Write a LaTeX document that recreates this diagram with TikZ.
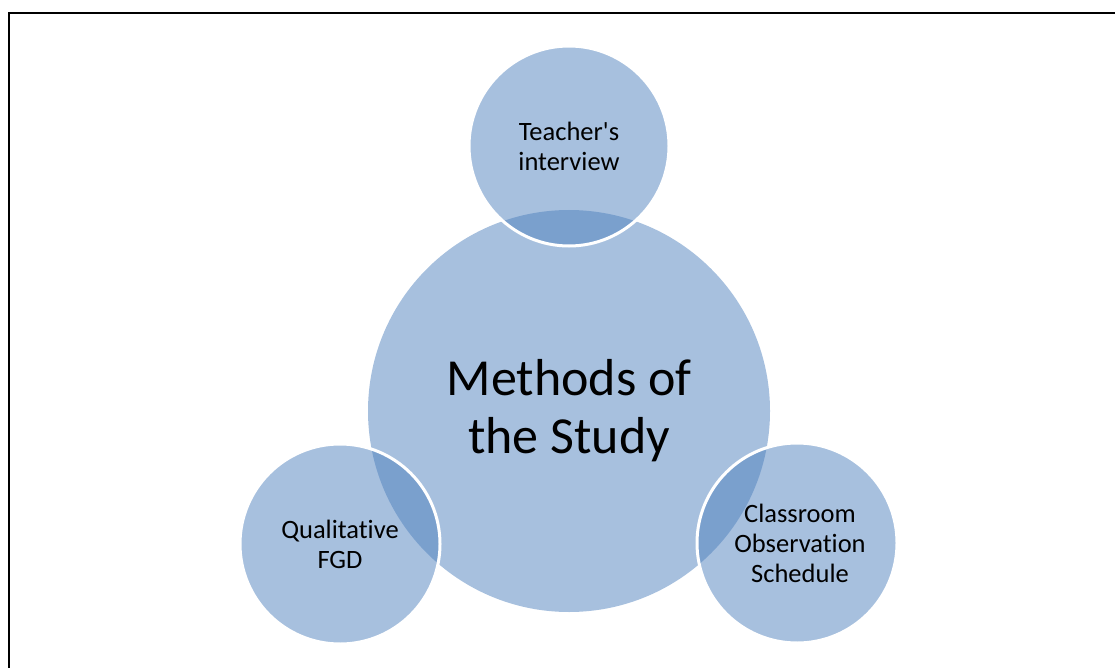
\documentclass[tikz,border=0pt]{standalone}
\usepackage{fontspec}
\setmainfont{Carlito}[Ligatures={NoCommon}]
\definecolor{methodblue}{HTML}{4F81BD}

\begin{document}
\begin{tikzpicture}[x=1pt,y=-1pt,
		bigcirc/.style = {circle, minimum size = 402pt, inner sep = 0pt, fill = methodblue, fill opacity = 0.5, text opacity = 1, align = center, font = \fontsize{52}{58}\selectfont},
		smallcirc/.style = {circle, minimum size = 200pt, inner sep = 0pt, fill = methodblue, fill opacity = 0.5, draw = white, draw opacity = 1, line width = 3pt, text opacity = 1, align = center, font = \fontsize{26.5}{30}\selectfont}]
		\useasboundingbox (0, 0) rectangle (1115, 668);
		\draw [line width = 2.2pt] (9, 668) -- (9, 13) -- (1115, 13);
		%%%%%%%%%%%%%
		\node [bigcirc] (study) at (569, 411) {Methods of\\the Study};
		\node [smallcirc] (teacher) at (569, 146) {Teacher\textquotesingle s\\interview};
		\node [smallcirc] (fgd) at (340, 544) {Qualitative\\FGD};
		\node [smallcirc] (obs) at (797, 543) {\hspace*{6pt}Classroom\\\hspace*{6pt}Observation\\\hspace*{6pt}Schedule};
	\end{tikzpicture}
\end{document}
